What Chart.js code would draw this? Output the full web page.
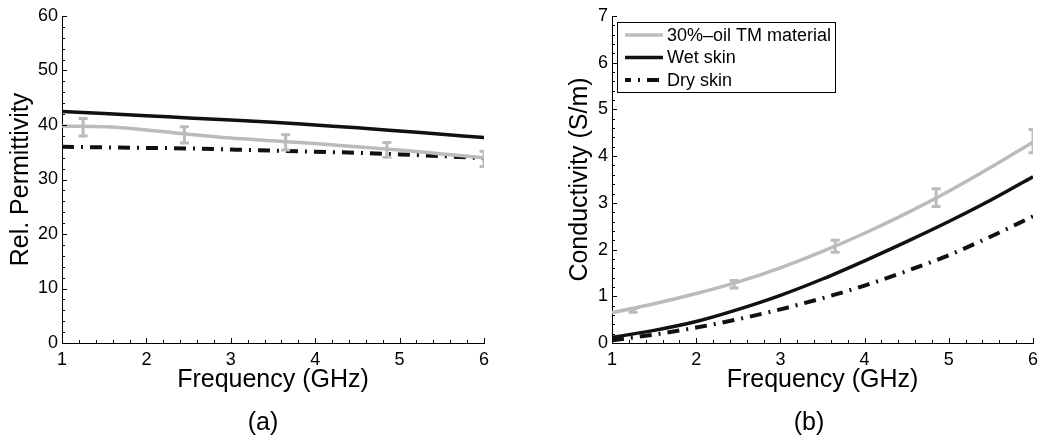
<!DOCTYPE html>
<html>
<head>
<meta charset="utf-8">
<script src="https://cdn.jsdelivr.net/npm/chart.js@4/dist/chart.umd.min.js"></script>
<style>
  body { margin: 0; background: #fff; width: 1050px; height: 442px; overflow: hidden; position: relative; }
  .panel { position: absolute; top: 0; width: 525px; height: 442px; }
  .cap { position: absolute; top: 407px; width: 60px; margin-left: -30px; text-align: center;
         font: 25px "Liberation Sans", Arial, sans-serif; color: #000; }
</style>
</head>
<body>
<div class="panel" style="left:0"><canvas id="perm-chart" width="525" height="442"></canvas></div>
<div class="panel" style="left:525px"><canvas id="cond-chart" width="525" height="442"></canvas></div>
<div class="cap" style="left:263px">(a)</div>
<div class="cap" style="left:809px">(b)</div>
<script>
// frequency points (GHz) that the curves were read at
const freq = [1, 1.5, 2, 2.5, 3, 3.5, 4, 4.5, 5, 5.5, 6];

// (a) relative permittivity
const permOil = [39.8, 39.7, 39.1, 38.3, 37.6, 37.1, 36.6, 36.0, 35.4, 34.7, 34.0];
const permWet = [42.5, 42.1, 41.7, 41.3, 40.9, 40.5, 40.0, 39.5, 38.9, 38.3, 37.7];
const permDry = [36.0, 35.9, 35.8, 35.7, 35.5, 35.3, 35.1, 34.9, 34.6, 34.3, 33.9];

// (b) conductivity (S/m)
const condOil = [0.65, 0.84, 1.06, 1.31, 1.61, 1.96, 2.35, 2.78, 3.25, 3.76, 4.30];
const condWet = [0.12, 0.27, 0.46, 0.72, 1.02, 1.37, 1.76, 2.17, 2.60, 3.06, 3.56];
const condDry = [0.06, 0.18, 0.33, 0.51, 0.72, 0.96, 1.23, 1.54, 1.88, 2.28, 2.71];

// measured points with error bars (30%-oil material)
const errFreq = [1.25, 2.45, 3.65, 4.85, 6.0];
const permErrMid = [39.6, 38.2, 36.8, 35.45, 33.8];
const permErrHalf = [1.6, 1.5, 1.4, 1.35, 1.4];
const condErrMid = [0.70, 1.26, 2.07, 3.11, 4.32];
const condErrHalf = [0.04, 0.08, 0.13, 0.19, 0.25];

const seriesNames = ['30%\u2013oil TM material', 'Wet skin', 'Dry skin'];
const xTicks = [1, 2, 3, 4, 5, 6];

const FONT = '"Liberation Sans", Arial, sans-serif';
const GRAY = '#bbbbbb';
Chart.defaults.color = '#000';
Chart.defaults.font.family = FONT;

const pts = (ys) => ys.map((y, i) => ({ x: freq[i], y }));

// error bars, drawn through the chart's own scales
const errorBarPlugin = {
  id: 'errorBars',
  afterDatasetsDraw(chart) {
    const eb = chart.options.plugins.errorBars;
    if (!eb) return;
    const { ctx, chartArea: a, scales: { x, y } } = chart;
    ctx.save();
    ctx.beginPath();
    ctx.rect(a.left, a.top, a.right - a.left, a.bottom - a.top);
    ctx.clip();
    ctx.strokeStyle = GRAY;
    ctx.lineWidth = 3;
    eb.x.forEach((fx, i) => {
      const px = x.getPixelForValue(fx);
      const y0 = y.getPixelForValue(eb.mid[i] - eb.half[i]);
      const y1 = y.getPixelForValue(eb.mid[i] + eb.half[i]);
      ctx.beginPath();
      ctx.moveTo(px, y0); ctx.lineTo(px, y1);
      ctx.moveTo(px - 4.5, y0); ctx.lineTo(px + 4.5, y0);
      ctx.moveTo(px - 4.5, y1); ctx.lineTo(px + 4.5, y1);
      ctx.stroke();
    });
    ctx.restore();
  }
};

// matlab style inward ticks
const inwardTicks = {
  id: 'inwardTicks',
  afterDraw(chart) {
    const o = chart.options.plugins.inwardTicks;
    const { ctx, scales: { x, y } } = chart;
    ctx.save();
    ctx.strokeStyle = '#000';
    ctx.lineWidth = 1;
    ctx.beginPath();
    const nx = Math.round((x.max - x.min) / o.xMinor);
    for (let i = 0; i <= nx; i++) {
      const v = x.min + i * o.xMinor;
      const px = Math.round(x.getPixelForValue(v)) + 0.5;
      const len = i % Math.round(1 / o.xMinor) === 0 ? 5 : 3;
      ctx.moveTo(px, y.bottom);
      ctx.lineTo(px, y.bottom - len);
    }
    const ny = Math.round((y.max - y.min) / o.yMinor);
    for (let i = 0; i <= ny; i++) {
      const v = y.min + i * o.yMinor;
      const py = Math.round(y.getPixelForValue(v)) + 0.5;
      const len = i % o.yPer === 0 ? 5 : 3;
      ctx.moveTo(x.left, py);
      ctx.lineTo(x.left + len, py);
    }
    ctx.stroke();
    ctx.restore();
  }
};

// legend box inside plot (b)
const boxLegend = {
  id: 'boxLegend',
  afterDraw(chart) {
    if (!chart.options.plugins.boxLegend) return;
    const { ctx, chartArea: a } = chart;
    const bx = a.left + 5, by = a.top + 6, bw = 218, bh = 70;
    ctx.save();
    ctx.fillStyle = '#fff';
    ctx.fillRect(bx, by, bw, bh);
    ctx.strokeStyle = '#000';
    ctx.lineWidth = 1;
    ctx.strokeRect(bx + 0.5, by + 0.5, bw, bh);
    ctx.font = '18px ' + FONT;
    ctx.textBaseline = 'middle';
    chart.data.datasets.forEach((ds, i) => {
      const ry = by + 13 + i * 22.5;
      ctx.beginPath();
      ctx.strokeStyle = ds.borderColor;
      ctx.lineWidth = ds.borderWidth;
      ctx.setLineDash(ds.borderDash || []);
      ctx.lineDashOffset = ds.borderDash ? 6 : 0;
      ctx.moveTo(bx + 8, ry);
      ctx.lineTo(bx + 46, ry);
      ctx.stroke();
      ctx.setLineDash([]);
      ctx.fillStyle = '#000';
      ctx.fillText(ds.label, bx + 50, ry + 1);
    });
    ctx.restore();
  }
};

const makeDatasets = (oil, wet, dry) => [
  { label: seriesNames[0], data: pts(oil), borderColor: GRAY, borderWidth: 3.5 },
  { label: seriesNames[1], data: pts(wet), borderColor: '#111', borderWidth: 3.5 },
  { label: seriesNames[2], data: pts(dry), borderColor: '#111', borderWidth: 4, borderDash: [12, 7, 2, 7] }
];

const makeOptions = (yMax, yStep, yTitle, yWidth, yTitlePad) => ({
  responsive: false,
  animation: false,
  layout: { padding: { left: 0, top: 16, right: 525 - 484, bottom: 39 } },
  elements: {
    point: { radius: 0 },
    line: { cubicInterpolationMode: 'monotone', fill: false }
  },
  plugins: { legend: { display: false }, tooltip: { enabled: false } },
  scales: {
    x: {
      type: 'linear', min: 1, max: 6,
      afterBuildTicks: (s) => { s.ticks = xTicks.map(v => ({ value: v })); },
      afterFit: (s) => { s.height = 60; },
      grid: { display: false, drawTicks: false },
      border: { display: true, color: '#000', width: 1 },
      ticks: { padding: 6, font: { size: 18 }, color: '#000' },
      title: { display: true, text: 'Frequency (GHz)', font: { size: 25 }, padding: { top: 0, bottom: 8 }, color: '#000' }
    },
    y: {
      type: 'linear', min: 0, max: yMax,
      afterFit: (s) => { s.width = yWidth; },
      grid: { display: false, drawTicks: false },
      border: { display: true, color: '#000', width: 1 },
      ticks: { stepSize: yStep, padding: 4, font: { size: 18 }, color: '#000' },
      title: { display: true, text: yTitle, font: { size: 25 }, padding: { top: yTitlePad, bottom: 0 }, color: '#000' }
    }
  }
});

// (a)
const optA = makeOptions(60, 10, 'Rel. Permittivity', 62, 6);
optA.plugins.errorBars = { x: errFreq, mid: permErrMid, half: permErrHalf };
optA.plugins.inwardTicks = { xMinor: 0.2, yMinor: 2, yPer: 5 };
new Chart(document.getElementById('perm-chart').getContext('2d'), {
  type: 'line',
  data: { datasets: makeDatasets(permOil, permWet, permDry) },
  options: optA,
  plugins: [errorBarPlugin, inwardTicks]
});

// (b)
const optB = makeOptions(7, 1, 'Conductivity (S/m)', 87, 40);
optB.layout.padding.right = 1050 - 1033;
optB.plugins.errorBars = { x: errFreq, mid: condErrMid, half: condErrHalf };
optB.plugins.inwardTicks = { xMinor: 0.2, yMinor: 0.2, yPer: 5 };
optB.plugins.boxLegend = true;
new Chart(document.getElementById('cond-chart').getContext('2d'), {
  type: 'line',
  data: { datasets: makeDatasets(condOil, condWet, condDry) },
  options: optB,
  plugins: [errorBarPlugin, inwardTicks, boxLegend]
});
</script>
</body>
</html>
